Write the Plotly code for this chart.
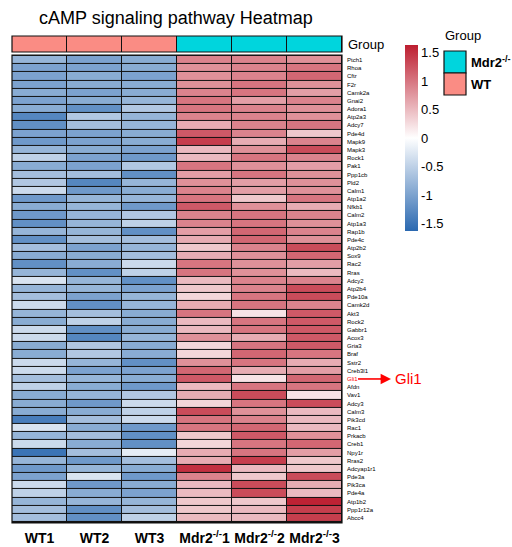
import plotly.graph_objects as go

W, H = 512, 547

genes = ["Ptch1", "Rhoa", "Cftr", "F2r", "Camk2a", "Gnai2", "Adora1", "Atp2a3", "Adcy7",
         "Pde4d", "Mapk9", "Mapk3", "Rock1", "Pak1", "Ppp1cb", "Pld2", "Calm1", "Atp1a2",
         "Nfkb1", "Calm2", "Atp1a3", "Rap1b", "Pde4c", "Atp2b2", "Sox9", "Rac2", "Rras",
         "Adcy2", "Atp2b4", "Pde10a", "Camk2d", "Akt3", "Rock2", "Gabbr1", "Acox3", "Gria3",
         "Braf", "Sstr2", "Creb3l1", "Gli1", "Afdn", "Vav1", "Adcy3", "Calm3", "Pik3cd",
         "Rac1", "Prkacb", "Creb1", "Npy1r", "Rras2", "Adcyap1r1", "Pde3a", "Pik3ca",
         "Pde4a", "Atp1b2", "Ppp1r12a", "Abcc4"]

samples = ["WT1", "WT2", "WT3", "Mdr2-/-1", "Mdr2-/-2", "Mdr2-/-3"]
sample_labels = ["<b>WT1</b>", "<b>WT2</b>", "<b>WT3</b>",
                 "<b>Mdr2<sup>-/-</sup>1</b>", "<b>Mdr2<sup>-/-</sup>2</b>", "<b>Mdr2<sup>-/-</sup>3</b>"]
group = ["WT", "WT", "WT", "Mdr2-/-", "Mdr2-/-", "Mdr2-/-"]

# row-scaled expression (z-scores), one list per sample
wt1 = [-0.8, -1.0, -1.0, -1.0, -0.9, -1.0, -0.9, -1.3, -1.2, -1.0, -1.1, -0.8, -0.5, -0.9,
       -0.7, -0.6, -0.4, -1.1, -0.9, -1.1, -1.2, -0.8, -1.2, -0.7, -0.9, -1.2, -0.8, -0.3,
       -0.8, -0.7, -0.4, -0.8, -0.9, -0.4, -0.4, -0.9, -0.9, -0.4, -0.4, -0.7, -0.5, -0.9,
       -0.9, -0.9, -1.4, -0.3, -0.8, -0.4, -1.5, -0.8, -1.1, -1.0, -0.4, -0.5, -0.8, -0.7, -0.7]
wt2 = [-1.0, -1.0, -0.9, -0.9, -1.0, -0.9, -1.2, -0.6, -0.7, -1.0, -1.0, -0.9, -1.0, -1.0,
       -0.7, -1.3, -1.1, -0.8, -0.8, -0.8, -0.8, -0.8, -0.7, -1.0, -0.9, -0.9, -1.2, -0.8,
       -0.8, -1.0, -1.2, -0.7, -0.5, -1.2, -1.3, -0.6, -0.6, -0.8, -1.0, -0.8, -0.9, -0.8,
       -1.1, -0.9, -0.7, -0.9, -0.7, -0.9, -0.7, -1.1, -0.8, -0.3, -1.1, -0.9, -0.8, -1.2, -1.2]
wt3 = [-0.9, -0.9, -1.0, -0.9, -0.9, -0.8, -0.6, -0.8, -0.8, -0.9, -0.9, -1.0, -1.1, -0.6,
       -1.2, -0.8, -0.9, -0.8, -1.1, -0.6, -0.5, -1.2, -0.7, -0.8, -0.7, -0.4, -0.5, -1.2,
       -1.0, -0.8, -0.8, -0.9, -0.9, -0.9, -0.8, -0.9, -0.9, -1.2, -1.0, -0.9, -1.1, -0.6,
       -0.4, -0.5, -0.4, -1.1, -1.2, -1.2, -0.2, -0.7, -0.9, -1.1, -0.9, -1.0, -0.8, -0.7, -0.5]
ko1 = [0.9, 0.8, 0.8, 0.8, 0.9, 1.0, 1.0, 0.9, 0.6, 1.2, 1.4, 0.5, 0.5, 1.0,
       0.7, 0.8, 0.9, 1.0, 1.2, 0.9, 0.9, 0.7, 0.6, 0.4, 0.6, 1.0, 1.0, 0.5,
       0.4, 0.3, 0.6, 1.0, 0.5, 0.5, 0.8, 0.3, 0.3, 0.8, 1.1, 1.2, 0.5, 0.6,
       0.3, 1.3, 1.0, 1.0, 0.4, 0.3, 0.6, 0.6, 1.5, 0.9, 0.5, 0.5, 0.4, 0.4, 0.5]
ko2 = [0.9, 0.9, 0.9, 1.0, 1.0, 0.7, 0.9, 0.9, 0.9, 0.9, 0.6, 0.8, 1.0, 0.8,
       1.0, 0.7, 0.7, 0.4, 0.8, 1.0, 1.0, 1.1, 1.1, 0.9, 0.8, 0.8, 0.8, 0.9,
       0.9, 1.0, 1.0, 0.2, 1.0, 1.0, 0.6, 1.0, 1.1, 1.0, 0.6, 0.2, 1.0, 1.3,
       1.0, 0.8, 0.9, 1.1, 1.2, 1.0, 1.0, 1.4, 0.5, 0.4, 1.3, 1.3, 0.4, 0.5, 0.5]
ko3 = [0.8, 1.0, 1.1, 0.8, 0.7, 0.9, 0.8, 0.8, 1.0, 0.4, 0.9, 1.3, 0.9, 0.7,
       0.8, 0.8, 0.8, 1.0, 0.6, 0.9, 0.8, 0.9, 0.8, 1.3, 1.1, 0.7, 0.5, 0.9,
       1.3, 1.3, 0.9, 1.2, 1.2, 1.2, 1.2, 1.2, 1.0, 0.6, 0.7, 1.1, 1.0, 0.2,
       1.3, 0.5, 0.5, 0.5, 0.8, 1.1, 0.7, 0.4, 0.4, 1.3, 0.6, 0.5, 1.6, 1.4, 1.4]

cbar_ticks = [1.5, 1, 0.5, 0, -0.5, -1, -1.5]
highlight = "Gli1"

z = [list(r) for r in zip(wt1, wt2, wt3, ko1, ko2, ko3)]
group_colors = {"WT": "#FA8C84", "Mdr2-/-": "#00D5DD"}
group_codes = [0 if g == "WT" else 1 for g in group]

FONT = "Liberation Sans, Arial, sans-serif"


def px(x):
    return x / W


def py(y):
    return 1 - y / H


x0, x1 = 12, 342          # heatmap left/right (px)
y0, y1 = 55, 523          # heatmap top/bottom (px)
g0, g1 = 36, 52           # group bar top/bottom (px)

fig = go.Figure()

fig.add_trace(go.Heatmap(
    z=z, x=samples, y=genes,
    zmin=-1.63, zmax=1.63,
    colorscale=[[0, "#2A68B0"], [0.5, "#FFFFFF"], [1, "#BD1E30"]],
    xgap=1, ygap=1,
    colorbar=dict(
        x=px(395), xanchor="left", y=py(138), yanchor="middle",
        thickness=13, lenmode="pixels", len=206,
        outlinewidth=0, ticks="", tickvals=cbar_ticks,
        ticktext=[f"{t:g}" for t in cbar_ticks],
        tickfont=dict(family=FONT, size=13, color="#000"),
        ticklabelposition="outside",
    ),
    xaxis="x", yaxis="y",
))

fig.add_trace(go.Heatmap(
    z=[group_codes], x=samples, y=["Group"],
    zmin=0, zmax=1,
    colorscale=[[0, group_colors["WT"]], [0.5, group_colors["WT"]],
                [0.5, group_colors["Mdr2-/-"]], [1, group_colors["Mdr2-/-"]]],
    showscale=False, xgap=1, ygap=0,
    xaxis="x", yaxis="y2",
))

fig.update_layout(
    width=W, height=H,
    margin=dict(l=0, r=0, t=0, b=0),
    paper_bgcolor="white",
    plot_bgcolor="#111111",
    font=dict(family=FONT, color="#000"),
    xaxis=dict(domain=[px(x0), px(x1)], tickmode="array", tickvals=samples,
               ticktext=sample_labels, tickfont=dict(size=14, family=FONT),
               ticks="", ticklabelstandoff=5, showgrid=False, zeroline=False,
               showline=False, anchor="y"),
    yaxis=dict(domain=[py(y1), py(y0)], autorange="reversed", showticklabels=False,
               ticks="", showgrid=False, zeroline=False),
    yaxis2=dict(domain=[py(g1), py(g0)], showticklabels=False, ticks="",
                showgrid=False, zeroline=False),
    showlegend=False,
)

shapes = [
    dict(type="rect", xref="paper", yref="paper", x0=px(x0), x1=px(x1),
         y0=py(y1), y1=py(y0), line=dict(color="#111", width=1.2)),
    dict(type="rect", xref="paper", yref="paper", x0=px(x0), x1=px(x1),
         y0=py(g1), y1=py(g0), line=dict(color="#111", width=1.2)),
]

annotations = [
    dict(text="cAMP signaling pathway Heatmap", xref="paper", yref="paper",
         x=px(176), y=py(18), showarrow=False, font=dict(size=18, family=FONT),
         xanchor="center", yanchor="middle"),
    dict(text="Group", xref="paper", yref="paper", x=px(346), y=py(44),
         showarrow=False, xanchor="left", yanchor="middle", font=dict(size=13)),
    dict(text="Group", xref="paper", yref="paper", x=px(443), y=py(36),
         showarrow=False, xanchor="left", yanchor="middle", font=dict(size=13)),
]

# row labels
for g in genes:
    annotations.append(dict(
        text=g, xref="paper", yref="y", x=px(345), y=g, showarrow=False,
        xanchor="left", yanchor="middle",
        font=dict(size=6, color="#FF0000" if g == highlight else "#000"),
    ))

# group legend
legend_items = [("Mdr2-/-", "<b>Mdr2<sup>-/-</sup></b>"), ("WT", "<b>WT</b>")]
for i, (key, lab) in enumerate(legend_items):
    top = 51 + 22 * i
    shapes.append(dict(type="rect", xref="paper", yref="paper",
                       x0=px(444), x1=px(466), y0=py(top + 22), y1=py(top),
                       fillcolor=group_colors[key], line=dict(color="#111", width=1.2)))
    annotations.append(dict(text=lab, xref="paper", yref="paper", x=px(469),
                            y=py(top + 11), showarrow=False, xanchor="left",
                            yanchor="middle", font=dict(size=13)))

# highlighted gene callout: arrow from the row label to the enlarged name
fig.add_shape(type="line", xref="paper", yref="y", x0=px(358), x1=px(382),
              y0=highlight, y1=highlight, line=dict(color="#FF0000", width=1.6))
annotations.append(dict(
    text="", xref="paper", yref="y", x=px(391), y=highlight,
    ax=-12, ay=0, axref="pixel", ayref="pixel",
    showarrow=True, arrowhead=2, arrowsize=1.3, arrowwidth=1.6, arrowcolor="#FF0000",
))
annotations.append(dict(
    text=highlight, xref="paper", yref="y", x=px(393), y=highlight, showarrow=False,
    xanchor="left", yanchor="middle", font=dict(size=15, color="#FF0000"),
))

fig.update_layout(shapes=list(fig.layout.shapes) + shapes, annotations=annotations)

fig.write_html("out.html")
